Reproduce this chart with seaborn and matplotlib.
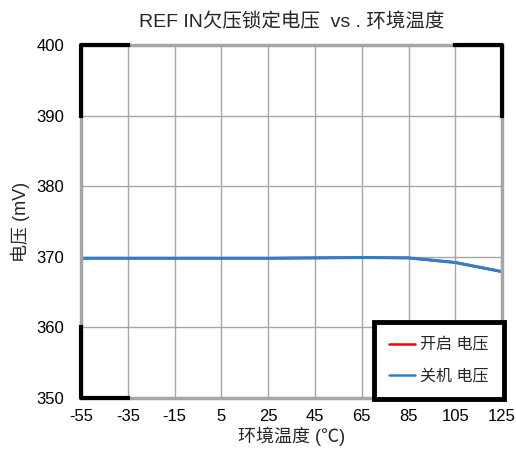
import matplotlib
matplotlib.use('Agg')
import matplotlib.pyplot as plt
import numpy as np
import pandas as pd
import seaborn as sns

# 数据
temps = [-55, -35, -15, 5, 25, 45, 65, 85, 105, 125]
v_on = [369.8, 369.8, 369.8, 369.8, 369.8, 369.85, 369.9, 369.85, 369.2, 367.9]
v_off = [369.8, 369.8, 369.8, 369.8, 369.8, 369.85, 369.9, 369.85, 369.2, 367.9]
x_ticks = [-55, -35, -15, 5, 25, 45, 65, 85, 105, 125]
y_ticks = [350, 360, 370, 380, 390, 400]

sns.set_style('white')
plt.rcParams['font.family'] = ['Liberation Sans', 'Noto Sans CJK SC', 'DejaVu Sans']
plt.rcParams['axes.unicode_minus'] = False
fam = ['Liberation Sans', 'Noto Sans CJK SC', 'DejaVu Sans']

df = pd.DataFrame({'t': temps, 'on': v_on, 'off': v_off})

fig = plt.figure(figsize=(5.16, 4.51), dpi=100)
ax = fig.add_axes([0.157, 0.1175, 0.816, 0.7825])

sns.lineplot(data=df, x='t', y='on', ax=ax, color='#FF0000', linewidth=1.8, label='开启 电压')
sns.lineplot(data=df, x='t', y='off', ax=ax, color='#2F80CC', linewidth=2.2, label='关机 电压')

ax.set_xlim(-55, 125)
ax.set_ylim(350, 400)
ax.set_xticks(x_ticks)
ax.set_yticks(y_ticks)
ax.grid(True, color='#A6A6A6', linewidth=1)
ax.set_axisbelow(True)
for s in ax.spines.values():
    s.set_color('#A6A6A6')
    s.set_linewidth(2.5)
ax.tick_params(axis='both', length=0, labelsize=12, colors='#000000')
ax.tick_params(axis='x', pad=8)
ax.tick_params(axis='y', pad=12)

# 四角黑色粗线
kw = dict(color='black', linewidth=3, clip_on=False, solid_capstyle='projecting', zorder=5)
ax.plot([-55, -55, -35], [390, 400, 400], **kw)
ax.plot([105, 125, 125], [400, 400, 390], **kw)
ax.plot([-55, -55, -35], [360, 350, 350], **kw)

ax.set_title('REF IN欠压锁定电压  vs . 环境温度', fontsize=14, family=fam, pad=13)
ax.set_xlabel('环境温度 (℃)', fontsize=13, family=fam, labelpad=2)
ax.set_ylabel('电压 (mV)', fontsize=13, family=fam, labelpad=5)

leg = ax.legend(loc='lower right', bbox_to_anchor=(1.005, -0.003), frameon=True, fancybox=False,
                prop={'family': fam, 'size': 11.5}, handlelength=1.6, labelspacing=1.05,
                borderpad=0.95, handletextpad=0.35, borderaxespad=0)
leg.get_frame().set_edgecolor('black')
leg.get_frame().set_linewidth(3.5)
leg.get_frame().set_alpha(1)
leg.set_zorder(6)
for h in leg.get_lines():
    h.set_linewidth(1.8)

fig.savefig('out.png', dpi=100)
